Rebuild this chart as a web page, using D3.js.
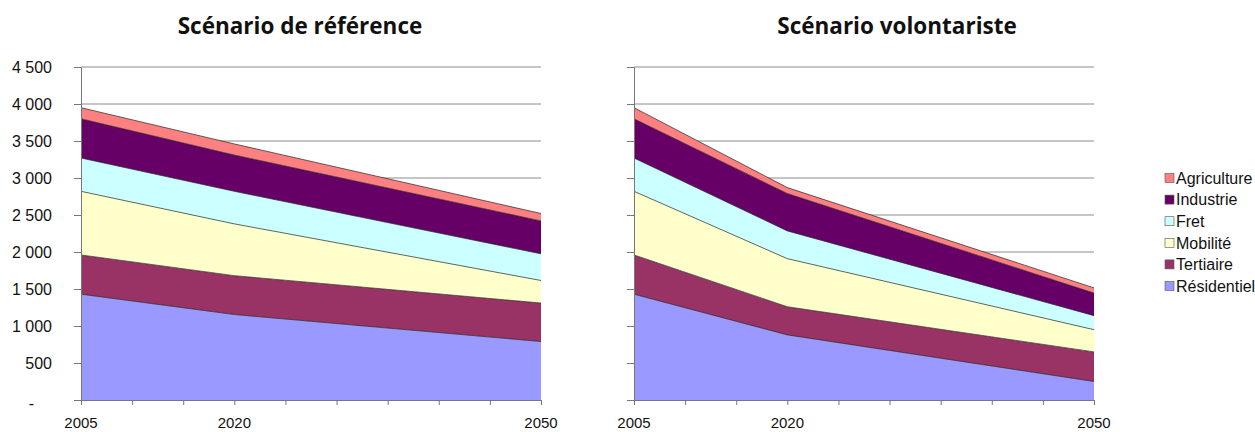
<!DOCTYPE html>
<html><head><meta charset="utf-8">
<script src="https://cdn.jsdelivr.net/npm/d3@7"></script>
<style>body{margin:0;background:#fff;} svg{display:block;}</style>
</head><body>
<svg id="c" width="1255" height="432"></svg>
<script>
const years = [2005, 2020, 2050];
const xTickYears = [2005, 2010, 2015, 2020, 2025, 2030, 2035, 2040, 2045, 2050];
const xLabelYears = [2005, 2020, 2050];
const yTicks = [0, 500, 1000, 1500, 2000, 2500, 3000, 3500, 4000, 4500];
const sectors = ["Résidentiel", "Tertiaire", "Mobilité", "Fret", "Industrie", "Agriculture"];
const sectorColors = ["#9999FF", "#993366", "#FFFFCC", "#CCFFFF", "#660066", "#FF8080"];
const titles = ["Scénario de référence", "Scénario volontariste"];

// Scénario de référence
const refResidentiel = [1430, 1155, 790];
const refTertiaire   = [530, 525, 520];
const refMobilite    = [860, 700, 305];
const refFret        = [450, 440, 360];
const refIndustrie   = [530, 490, 445];
const refAgriculture = [150, 150, 100];

// Scénario volontariste
const volResidentiel = [1430, 880, 250];
const volTertiaire   = [530, 380, 400];
const volMobilite    = [860, 650, 300];
const volFret        = [450, 375, 190];
const volIndustrie   = [530, 505, 305];
const volAgriculture = [150, 80, 70];

const scenarios = [
  [refResidentiel, refTertiaire, refMobilite, refFret, refIndustrie, refAgriculture],
  [volResidentiel, volTertiaire, volMobilite, volFret, volIndustrie, volAgriculture]
];

const svg = d3.select("#c");
const panels = [{x0: 81, x1: 541, labels: true, tx: 300}, {x0: 634, x1: 1094, labels: false, tx: 897}];
const yTop = 67, yBottom = 400;
const y = d3.scaleLinear().domain([0, 4500]).range([yBottom, yTop]);
const fmt = v => v === 0 ? "-" : d3.format(",")(v).replace(/,/g, " ");
const sans = "Arial, 'Liberation Sans', sans-serif";

panels.forEach((p, i) => {
  const x = d3.scaleLinear().domain([2005, 2050]).range([p.x0, p.x1]);
  const g = svg.append("g");

  // gridlines
  g.selectAll("line.grid").data(yTicks.filter(d => d > 0)).join("line")
    .attr("x1", p.x0).attr("x2", p.x1)
    .attr("y1", d => y(d)).attr("y2", d => y(d))
    .attr("stroke", "#8c8c8c").attr("stroke-width", 1);

  // stacked data
  const rows = years.map((yr, k) => {
    const r = {year: yr};
    sectors.forEach((s, j) => r[s] = scenarios[i][j][k]);
    return r;
  });
  const stacked = d3.stack().keys(sectors)(rows);
  const area = d3.area().x(d => x(d.data.year)).y0(d => y(d[0])).y1(d => y(d[1]));
  const line = d3.line().x(d => x(d.data.year)).y(d => y(d[1]));
  g.selectAll("path.area").data(stacked).join("path")
    .attr("d", area)
    .attr("fill", (d, j) => sectorColors[j]);
  g.selectAll("path.edge").data(stacked).join("path")
    .attr("d", line)
    .attr("fill", "none").attr("stroke", "#222").attr("stroke-width", 0.7);

  // y axis
  const ya = g.append("g").attr("transform", `translate(${p.x0},0)`)
    .call(d3.axisLeft(y).tickValues(yTicks).tickSize(7).tickPadding(22)
      .tickFormat(p.labels ? fmt : () => ""));
  ya.select(".domain").attr("stroke", "#777");
  ya.selectAll(".tick line").attr("stroke", "#777");
  ya.selectAll("text").attr("font-family", sans)
    .attr("font-size", 16).attr("fill", "#111");
  ya.selectAll(".tick").filter(d => d === 0).select("text")
    .attr("x", -47).attr("dy", "0.55em");

  // x axis
  const xa = g.append("g").attr("transform", `translate(0,${yBottom})`)
    .call(d3.axisBottom(x).tickValues(xTickYears).tickSize(5).tickFormat(""));
  xa.select(".domain").attr("stroke", "#777");
  xa.selectAll(".tick line").attr("stroke", "#777");
  g.selectAll("text.xl").data(xLabelYears).join("text")
    .attr("x", d => x(d)).attr("y", 428)
    .attr("text-anchor", "middle")
    .attr("font-family", sans)
    .attr("font-size", 15).attr("fill", "#111")
    .text(d => d);

  // title
  svg.append("text")
    .attr("x", p.tx).attr("y", 33.5)
    .attr("text-anchor", "middle")
    .attr("font-family", "'Open Sans', Lato, sans-serif")
    .attr("font-weight", "bold").attr("font-size", 22.5).attr("fill", "#111")
    .text(titles[i]);
});

// legend
const legend = svg.append("g");
const legendOrder = sectors.map((s, j) => j).reverse();
legendOrder.forEach((j, k) => {
  const ly = 178 + k * 21.6;
  legend.append("rect").attr("x", 1165).attr("y", ly - 4.5).attr("width", 9).attr("height", 9)
    .attr("fill", sectorColors[j]).attr("stroke", "#555").attr("stroke-width", 0.6);
  legend.append("text").attr("x", 1176).attr("y", ly).attr("dy", "0.36em")
    .attr("font-family", sans)
    .attr("font-size", 16).attr("fill", "#111")
    .text(sectors[j]);
});
</script>
</body></html>
